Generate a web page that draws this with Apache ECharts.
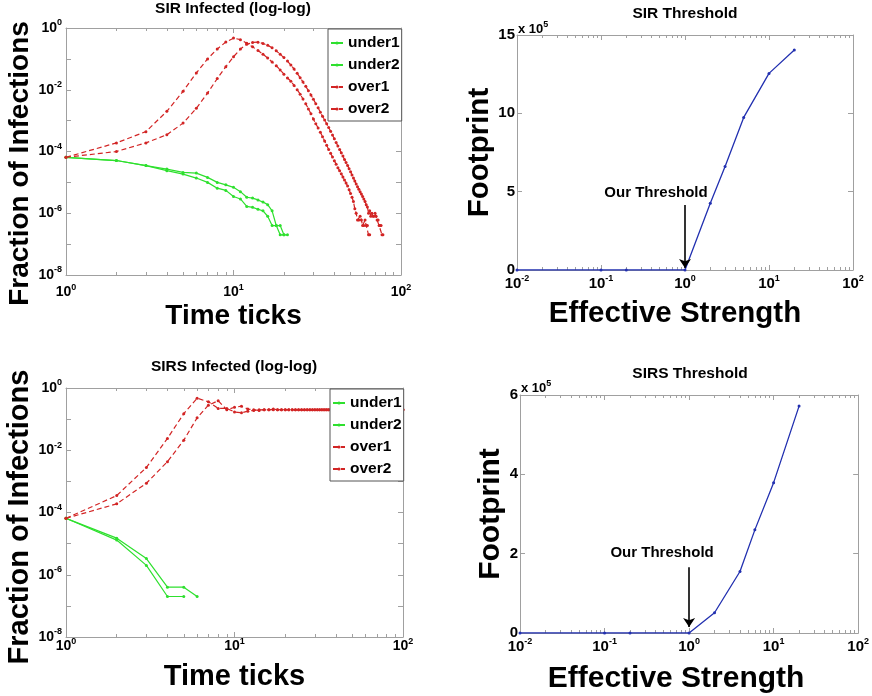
<!DOCTYPE html>
<html><head><meta charset="utf-8">
<script src="https://cdn.jsdelivr.net/npm/echarts@6/dist/echarts.min.js"></script>
<style>html,body{margin:0;padding:0;background:#fff}#c{width:872px;height:696px}</style>
</head><body><div id="c"></div>
<script>
// ---------- data (time ticks are 1, 2, 3, ... for each array index) ----------
const sirUnder1 = [6.5e-5,5.1e-5,3.5e-5,2.7e-5,2.1e-5,2.0e-5,1.45e-5,1.0e-5,8.3e-6,6.9e-6,
  5.0e-6,3.3e-6,3.1e-6,2.7e-6,2.3e-6,1.9e-6,1.2e-6,4e-7,4e-7,2e-7,2e-7];
const sirUnder2 = [6.5e-5,5.1e-5,3.5e-5,2.4e-5,1.86e-5,1.38e-5,1.0e-5,6.5e-6,5.5e-6,3.5e-6,
  2.9e-6,1.66e-6,1.55e-6,1.35e-6,1.2e-6,8e-7,4e-7,4e-7,2e-7,2e-7];
const sirOver1 = [6.5e-5,1.9e-4,4.4e-4,2.0e-3,8.9e-3,0.035,0.10,0.21,0.35,0.47,
  0.42,0.32,0.245,0.186,0.141,0.107,0.079,0.060,0.044,0.032,
  0.024,0.019,0.0138,0.0100,0.0072,0.0050,0.0035,0.0024,0.00166,0.00112,
  7.9e-4,5.8e-4,4.2e-4,3.0e-4,2.2e-4,1.6e-4,1.17e-4,8.7e-5,6.6e-5,5.0e-5,
  3.9e-5,3.0e-5,2.4e-5,1.9e-5,1.5e-5,1.2e-5,9.5e-6,7.6e-6,5.8e-6,4.4e-6,
  3.3e-6,2.4e-6,1.4e-6,1.0e-6,6e-7,6e-7,8e-7,6e-7,4e-7,4e-7,
  6e-7,4e-7,4e-7,2e-7,2e-7];
const sirOver2 = [6.5e-5,1.0e-4,1.9e-4,3.5e-4,8.3e-4,2.5e-3,7.8e-3,0.023,0.056,0.117,
  0.21,0.295,0.34,0.347,0.316,0.275,0.229,0.182,0.141,0.110,
  0.085,0.063,0.047,0.034,0.0245,0.0178,0.0129,0.0093,0.0068,0.0049,
  0.0035,0.0026,0.00186,0.00138,0.00105,7.9e-4,6.0e-4,4.5e-4,3.4e-4,2.6e-4,
  1.95e-4,1.5e-4,1.17e-4,9.1e-5,7.1e-5,5.5e-5,4.4e-5,3.5e-5,2.75e-5,2.2e-5,
  1.74e-5,1.38e-5,1.1e-5,8.9e-6,7.2e-6,6.0e-6,5.0e-6,4.2e-6,3.5e-6,2.9e-6,
  2.4e-6,1.9e-6,1.6e-6,1.0e-6,1.2e-6,8e-7,1.0e-6,8e-7,8e-7,1.0e-6,
  8e-7,6e-7,6e-7,4e-7,4e-7,4e-7,2e-7,2e-7];

const sirsUnder1 = [6.5e-5,1.5e-5,3.3e-6,4e-7,4e-7,2e-7];
const sirsUnder2 = [6.5e-5,1.3e-5,2e-6,2e-7,2e-7];
const sirsOver1 = [6.5e-5,3.5e-4,2.8e-3,0.024,0.15,0.47,0.36,0.22,0.22,0.17,
  0.16,0.18,0.19,0.2,0.2,0.2,0.21,0.2,0.2,0.2,
  0.2,0.2,0.2,0.2,0.2,0.2,0.2,0.2,0.2,0.2,
  0.2,0.2,0.2,0.2,0.2,0.2,0.2,0.2,0.2,0.2,
  0.2,0.2,0.2,0.2,0.2,0.2,0.2,0.2,0.2,0.2,
  0.2,0.2,0.2,0.2,0.2,0.2,0.2,0.2,0.2,0.2,
  0.2,0.2,0.2,0.2,0.2,0.2,0.2,0.2,0.2,0.2,
  0.2,0.2,0.2,0.2,0.2,0.2,0.2,0.2,0.2,0.2,
  0.2,0.2,0.2,0.2,0.2,0.2,0.2,0.2,0.2,0.2,
  0.2,0.2,0.2,0.2,0.2,0.2,0.2,0.2,0.2,0.2];
const sirsOver2 = [6.5e-5,1.9e-4,8.7e-4,4.3e-3,0.021,0.11,0.28,0.39,0.2,0.24,
  0.26,0.21,0.2,0.19,0.2,0.2,0.2,0.2,0.2,0.2,
  0.2,0.2,0.2,0.2,0.2,0.2,0.2,0.2,0.2,0.2,
  0.2,0.2,0.2,0.2,0.2,0.2,0.2,0.2,0.2,0.2,
  0.2,0.2,0.2,0.2,0.2,0.2,0.2,0.2,0.2,0.2,
  0.2,0.2,0.2,0.2,0.2,0.2,0.2,0.2,0.2,0.2,
  0.2,0.2,0.2,0.2,0.2,0.2,0.2,0.2,0.2,0.2,
  0.2,0.2,0.2,0.2,0.2,0.2,0.2,0.2,0.2,0.2,
  0.2,0.2,0.2,0.2,0.2,0.2,0.2,0.2,0.2,0.2,
  0.2,0.2,0.2,0.2,0.2,0.2,0.2,0.2,0.2,0.2];

const sirStrength   = [0.01,0.1,0.2,1,2,3,5,10,20];
const sirFootprint  = [0,0,0,0,4.26e5,6.6e5,9.74e5,12.55e5,14.04e5];
const sirsStrength  = [0.01,0.1,0.2,1,2,4,6,10,20];
const sirsFootprint = [0,0,0,0,0.51e5,1.55e5,2.6e5,3.79e5,5.72e5];

// tick labels
const timeExps = [0,1,2];
const fractionExps = [-8,-6,-4,-2,0];
const strengthExps = [-2,-1,0,1,2];
const sirFootTicks = [0,5,10,15];
const sirsFootTicks = [0,2,4,6];
const footScale = 1e5;
const footScaleExp = 5;
const legendNames = ['under1','under2','over1','over2'];
const thresholdAt = 1;

// ---------- styling ----------
const FONT = '"Liberation Sans", Arial, Helvetica, sans-serif';
const AX = '#a0a0a0';
const GREEN = '#2ee02e', RED = '#d22424', BLUE = '#2230b0';

const grids = [
  {left:66, top:28, width:335, height:247},
  {left:517, top:35, width:336, height:235},
  {left:66, top:388, width:337, height:249},
  {left:520, top:395, width:339, height:238}
];

function powLabel(exps, size, sup, margin){
  return {show:true, margin:margin, hideOverlap:false,
    formatter: v => { const e = Math.round(Math.log10(v)); return exps.includes(e) ? '{b|10}{s|' + e + '}' : ''; },
    rich:{ b:{fontSize:size, fontWeight:'bold', fontFamily:FONT, color:'#000'},
           s:{fontSize:sup, fontWeight:'bold', fontFamily:FONT, color:'#000', padding:[0,0,10,0]} }
  };
}
function axisBase(type, g, pos, min, max){
  const a = {type, gridIndex:g, position:pos, min, max,
    axisLine:{show:true, onZero:false, lineStyle:{color:AX, width:1}},
    axisTick:{show:true, inside:true, length:5, lineStyle:{color:AX}},
    splitLine:{show:false}, axisLabel:{show:false}, silent:true};
  if (type === 'log') a.logBase = 10;
  return a;
}
const minor = {show:true, splitNumber:9, length:3, lineStyle:{color:AX}};
const nameStyle = (size, pad) => ({fontSize:size, fontWeight:'bold', fontFamily:FONT, color:'#000', padding:pad});

const xAxes = [], yAxes = [];
// bottom x axes
xAxes.push(Object.assign(axisBase('log',0,'bottom',1,100), {axisLabel:powLabel(timeExps,14,9,8), minorTick:minor,
  name:'Time ticks', nameLocation:'middle', nameGap:27, nameTextStyle:nameStyle(28,0)}));
xAxes.push(Object.assign(axisBase('log',1,'bottom',0.01,100), {axisLabel:powLabel(strengthExps,15,9,4), minorTick:minor,
  name:'Effective Strength', nameLocation:'middle', nameGap:29, nameTextStyle:nameStyle(29.5,[0,20,0,0])}));
xAxes.push(Object.assign(axisBase('log',2,'bottom',1,100), {axisLabel:powLabel(timeExps,14,9,0), minorTick:minor,
  name:'Time ticks', nameLocation:'middle', nameGap:25, nameTextStyle:nameStyle(29,0)}));
xAxes.push(Object.assign(axisBase('log',3,'bottom',0.01,100), {axisLabel:powLabel(strengthExps,15,9,4), minorTick:minor,
  name:'Effective Strength', nameLocation:'middle', nameGap:31, nameTextStyle:nameStyle(30,[0,26,0,0])}));
// top x axes (ticks only)
xAxes.push(Object.assign(axisBase('log',0,'top',1,100), {minorTick:minor}));
xAxes.push(Object.assign(axisBase('log',1,'top',0.01,100), {minorTick:minor}));
xAxes.push(Object.assign(axisBase('log',2,'top',1,100), {minorTick:minor}));
xAxes.push(Object.assign(axisBase('log',3,'top',0.01,100), {minorTick:minor}));

// left y axes
yAxes.push(Object.assign(axisBase('log',0,'left',1e-8,1), {axisLabel:powLabel(fractionExps,14,9,4),
  name:'Fraction of Infections', nameLocation:'middle', nameRotate:90, nameGap:30, nameTextStyle:nameStyle(28,[0,24,0,0])}));
yAxes.push(Object.assign(axisBase('value',1,'left',0,15e5), {interval:5e5,
  axisLabel:{show:true, margin:2, formatter:v => sirFootTicks.includes(v/footScale) ? String(v/footScale) : '',
    fontSize:15, fontWeight:'bold', fontFamily:FONT, color:'#000'},
  name:'Footprint', nameLocation:'middle', nameRotate:90, nameGap:22, nameTextStyle:nameStyle(29.5,0)}));
yAxes.push(Object.assign(axisBase('log',2,'left',1e-8,1), {axisLabel:powLabel(fractionExps,14,9,4),
  name:'Fraction of Infections', nameLocation:'middle', nameRotate:90, nameGap:28, nameTextStyle:nameStyle(29,[0,9,0,0])}));
yAxes.push(Object.assign(axisBase('value',3,'left',0,6e5), {interval:2e5,
  axisLabel:{show:true, margin:2, formatter:v => sirsFootTicks.includes(v/footScale) ? String(v/footScale) : '',
    fontSize:15, fontWeight:'bold', fontFamily:FONT, color:'#000'},
  name:'Footprint', nameLocation:'middle', nameRotate:90, nameGap:6, nameTextStyle:nameStyle(30,0)}));
// right y axes (ticks only)
yAxes.push(axisBase('log',0,'right',1e-8,1));
yAxes.push(Object.assign(axisBase('value',1,'right',0,15e5), {interval:5e5}));
yAxes.push(axisBase('log',2,'right',1e-8,1));
yAxes.push(Object.assign(axisBase('value',3,'right',0,6e5), {interval:2e5}));

function timeSeries(name, vals, g, color, dashed){
  return {type:'line', name, xAxisIndex:g, yAxisIndex:g,
    data: vals.map((v,i) => [i+1, v]),
    symbol:'circle', symbolSize:3, showSymbol:true, showAllSymbol:true,
    lineStyle:{color, width:1.2, type: dashed ? [5,3] : 'solid'},
    itemStyle:{color}, emphasis:{disabled:true}, animation:false};
}
function thresholdSeries(name, xs, ys, g, arrowTop, arrowTip, textAt, textDx){
  return {type:'line', name, xAxisIndex:g, yAxisIndex:g,
    data: ys.map((v,i) => [xs[i], v]),
    symbol:'circle', symbolSize:3, showSymbol:true,
    lineStyle:{color:BLUE, width:1.3}, itemStyle:{color:BLUE},
    emphasis:{disabled:true}, animation:false,
    markLine:{silent:true, symbol:['none','arrow'], symbolSize:9, animation:false,
      lineStyle:{color:'#000', width:1.6, type:'solid'}, label:{show:false},
      data:[[{coord:[thresholdAt, arrowTop]}, {coord:[thresholdAt, arrowTip]}]]},
    markPoint:{silent:true, symbol:'circle', symbolSize:1, animation:false,
      itemStyle:{color:'rgba(0,0,0,0)'},
      label:{show:true, position:'inside', formatter:'Our Threshold', offset:[textDx,0],
        fontSize:15, fontWeight:'bold', fontFamily:FONT, color:'#000'},
      data:[{coord:[thresholdAt, textAt]}]}
  };
}

const series = [
  timeSeries('under1', sirUnder1, 0, GREEN, false),
  timeSeries('under2', sirUnder2, 0, GREEN, false),
  timeSeries('over1', sirOver1, 0, RED, true),
  timeSeries('over2', sirOver2, 0, RED, true),
  timeSeries('under1', sirsUnder1, 2, GREEN, false),
  timeSeries('under2', sirsUnder2, 2, GREEN, false),
  timeSeries('over1', sirsOver1, 2, RED, true),
  timeSeries('over2', sirsOver2, 2, RED, true),
  thresholdSeries('SIR footprint', sirStrength, sirFootprint, 1, 4.15e5, 0.13e5, 4.91e5, -29),
  thresholdSeries('SIRS footprint', sirsStrength, sirsFootprint, 3, 1.66e5, 0.15e5, 2.02e5, -27)
];

const legendBase = {data:legendNames, orient:'vertical', padding:[6,2,4,2], itemGap:6,
  itemWidth:12, itemHeight:4, borderColor:'#555', borderWidth:1, backgroundColor:'#fff',
  selectedMode:false, textStyle:{fontSize:15.5, fontWeight:'bold', fontFamily:FONT, color:'#000'}};

const titleStyle = {fontSize:15.5, fontWeight:'bold', fontFamily:FONT, color:'#000'};
const multStyle = {rich:{a:{fontSize:13, fontWeight:'bold', fontFamily:FONT, color:'#000'},
  e:{fontSize:9, fontWeight:'bold', fontFamily:FONT, color:'#000', padding:[0,0,10,0]}}};
const multText = '{a|x 10}{e|' + footScaleExp + '}';
const option = {
  animation:false,
  backgroundColor:'#fff',
  textStyle:{fontFamily:FONT},
  title:[
    {text:'SIR Infected (log-log)', left:233, top:1, textAlign:'center', padding:0, textStyle:titleStyle},
    {text:'SIR Threshold', left:685, top:6, textAlign:'center', padding:0, textStyle:titleStyle},
    {text:'SIRS Infected (log-log)', left:234, top:359, textAlign:'center', padding:0, textStyle:titleStyle},
    {text:'SIRS Threshold', left:690, top:366, textAlign:'center', padding:0, textStyle:titleStyle},
    {text:multText, left:518, top:20, padding:0, textStyle:multStyle},
    {text:multText, left:521, top:379, padding:0, textStyle:multStyle}
  ],
  legend:[
    Object.assign({left:328, top:29}, legendBase),
    Object.assign({left:330, top:389}, legendBase)
  ],
  grid: grids.map(g => Object.assign({containLabel:false}, g)),
  xAxis: xAxes,
  yAxis: yAxes,
  series
};
const chart = echarts.init(document.getElementById('c'), null, {renderer:'canvas'});
chart.setOption(option);
</script>
</body></html>
